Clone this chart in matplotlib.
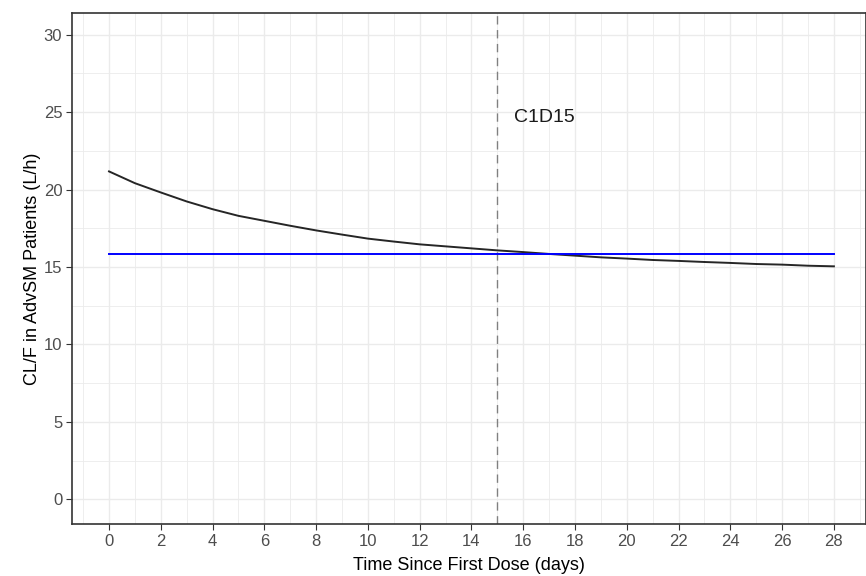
import matplotlib
matplotlib.use("Agg")
import matplotlib.pyplot as plt
import numpy as np

# 数据 (one value per day)
days = list(range(0, 29))
clf = [21.17, 20.41, 19.81, 19.23, 18.73, 18.30, 17.98, 17.66, 17.36,
       17.09, 16.83, 16.64, 16.46, 16.33, 16.20, 16.07, 15.96, 15.84,
       15.73, 15.62, 15.54, 15.45, 15.39, 15.32, 15.26, 15.19, 15.15,
       15.08, 15.04]
ref_clf = 15.84
ref_day = 15
ref_label = "C1D15"

plt.rcParams["font.family"] = ["Liberation Sans", "DejaVu Sans"]

fig = plt.figure(figsize=(8.66, 5.76), dpi=100)
ax = fig.add_axes([72 / 866, 52 / 576, 794 / 866, 511 / 576])

ax.plot(days, clf, color="black", lw=1.4, alpha=0.85, zorder=3)
ax.plot([days[0], days[-1]], [ref_clf, ref_clf], color="#0000ff", lw=1.4, zorder=3)
ax.axvline(ref_day, color="#808080", lw=1.0, ls=(0, (6, 4)), zorder=2)
ax.text(15.65, 24.65, ref_label, fontsize=14, ha="left", va="center", color="#1a1a1a")

ax.set_xticks(np.arange(0, 29, 2))
ax.set_xticks(np.arange(-1, 30, 1), minor=True)
ax.set_yticks(np.arange(0, 31, 5))
ax.set_yticks(np.arange(-2.5, 32, 2.5), minor=True)
# limits after the ticks, otherwise the minor ticks widen the view
ax.set_xlim(-1.43, 29.24)
ax.set_ylim(-1.6, 31.4)
ax.grid(which="major", color="#ebebeb", lw=1.0)
ax.grid(which="minor", color="#ebebeb", lw=0.6)
ax.set_axisbelow(True)
ax.tick_params(which="minor", length=0)
ax.tick_params(which="major", length=4, width=0.8, color="#333333",
               labelcolor="#4d4d4d", labelsize=12, pad=3)
for s in ax.spines.values():
    s.set_color("#333333")
    s.set_linewidth(1.2)

ax.set_xlabel("Time Since First Dose (days)", fontsize=13, labelpad=6)
ax.set_ylabel("CL/F in AdvSM Patients (L/h)", fontsize=13, labelpad=2)

fig.savefig("out.png", dpi=100)
